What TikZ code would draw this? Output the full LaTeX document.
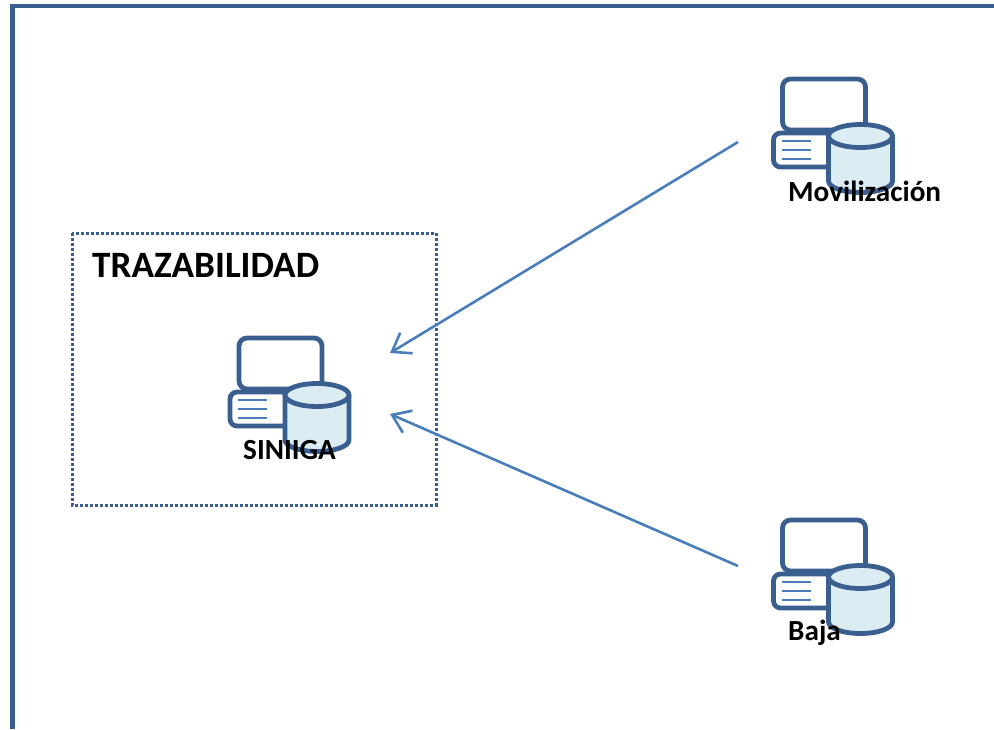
\documentclass[tikz,border=0pt]{standalone}
\usepackage{fontspec}
\setmainfont{Carlito}
\usetikzlibrary{arrows.meta}
\definecolor{marco}{HTML}{3A5F8F}
\definecolor{flecha}{HTML}{4A7EBB}
\definecolor{cilindro}{HTML}{DBECF3}
\tikzset{
	marcoline/.style={draw=marco, line width=4.8pt, line join=round},
	renglon/.style={draw=flecha, line width=1.6pt},
	enlace/.style={draw=flecha, line width=2.6pt, -{Straight Barb[length=17pt,width=24pt,line width=2.6pt]}},
	etiqueta/.style={font=\bfseries\fontsize{29.2}{32}\selectfont, text=black, inner sep=0pt, anchor=base west},
	sistema/.pic={
		\draw[marcoline, fill=white, rounded corners=8pt] (0,51)--(0,0)--(83,0)--(83,51)--cycle ;
		\draw[marcoline, fill=white, rounded corners=7pt] (-9,54) rectangle (50,88) ;
		\draw[renglon] (-1,62)--(28,62) (-1,71)--(28,71) (-1,80)--(28,80) ;
		\draw[marcoline, fill=cilindro] (46,57)--(46,102) arc[start angle=180, end angle=0, x radius=32, y radius=11.5]--(110,57) ;
		\draw[marcoline, fill=cilindro] (78,57) ellipse[x radius=32, y radius=11.5] ;
	}
}
\begin{document}
\begin{tikzpicture}[x=1pt, y=-1pt, line cap=butt, >=stealth]
	\useasboundingbox (0,0) rectangle (994,729) ;
	\draw[marcoline, line join=miter] (12.5,729)--(12.5,6)--(994,6) ;
	\draw[draw=marco, line width=3pt, dash pattern=on 2.8pt off 2.2pt] (72,233) rectangle (436,505) ;
	\node[etiqueta, font=\bfseries\fontsize{37.2}{40}\selectfont] (traza) at (92,277) {TRAZABILIDAD} ;
	\pic at (239,338) {sistema} ;
	\pic at (782.5,79) {sistema} ;
	\pic at (782.5,520) {sistema} ;
	\node[etiqueta] (siniga) at (243,459) {SINIIGA} ;
	\node[etiqueta] (movil) at (788,201) {Movilización} ;
	\node[etiqueta] (baja) at (788,640) {Baja} ;
	\coordinate (inArriba) at (390,353) ;
	\coordinate (inAbajo) at (390,414) ;
	\coordinate (outMovil) at (738,142) ;
	\coordinate (outBaja) at (738,566) ;
	\draw[enlace] (outMovil)--(inArriba) ;
	\draw[enlace] (outBaja)--(inAbajo) ;
\end{tikzpicture}
\end{document}
